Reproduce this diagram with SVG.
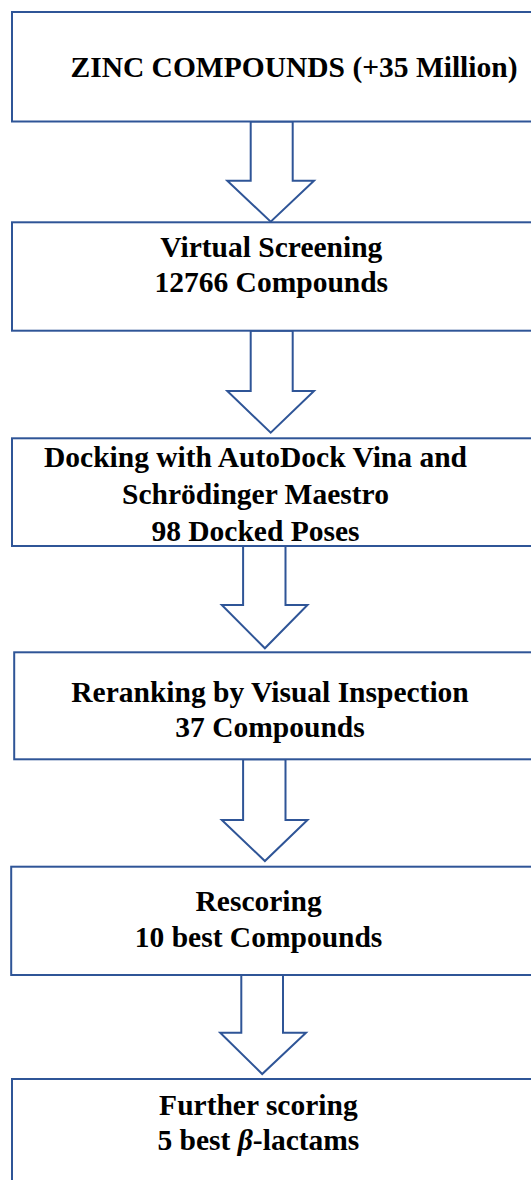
<svg xmlns="http://www.w3.org/2000/svg" width="531" height="1180" viewBox="0 0 531 1180">
<style>
.box{fill:#fff;stroke:#2F5597;stroke-width:2}
.arr{fill:#fff;stroke:#2F5597;stroke-width:2;stroke-linejoin:miter}
.t{font-family:"Liberation Serif","Times New Roman",serif;font-weight:bold;font-size:29.5px;fill:#000;text-anchor:middle}
</style>
<rect width="531" height="1180" fill="#fff"/>
<g id="connectors">
<polygon class="arr" points="250.7,121.5 292.7,121.5 292.7,180.7 314,180.7 270.7,221.7 227.3,180.7 250.7,180.7"/>
<polygon class="arr" points="250.7,330.7 292.7,330.7 292.7,391 314,391 270.7,432.7 227.3,391 250.7,391"/>
<polygon class="arr" points="243.1,546 285.5,546 285.5,605 307.5,605 264.9,648.3 221.8,605 243.1,605"/>
<polygon class="arr" points="243.1,759.3 285.5,759.3 285.5,820 307.5,820 264.9,861 221.8,820 243.1,820"/>
<polygon class="arr" points="241.3,973 283,973 283,1032.7 306,1032.7 262.2,1074 220.2,1032.7 241.3,1032.7"/>
</g>
<g id="n1">
<rect class="box" x="12" y="12" width="540" height="109.5"/>
<text class="t" x="294" y="77">ZINC COMPOUNDS (+35 Million)</text>
</g>
<g id="n2">
<rect class="box" x="12" y="222.3" width="540" height="108.4"/>
<text class="t" x="271.3" y="256.7">Virtual Screening</text>
<text class="t" x="271.3" y="291.7">12766 Compounds</text>
</g>
<g id="n3">
<rect class="box" x="12" y="438.3" width="540" height="107.7"/>
<text class="t" x="255.5" y="467.3">Docking with AutoDock Vina and</text>
<text class="t" x="255.5" y="504">Schrödinger Maestro</text>
<text class="t" x="255.5" y="540.7">98 Docked Poses</text>
</g>
<g id="n4">
<rect class="box" x="14.2" y="652.3" width="540" height="107"/>
<text class="t" x="270" y="701.7">Reranking by Visual Inspection</text>
<text class="t" x="270" y="736.7">37 Compounds</text>
</g>
<g id="n5">
<rect class="box" x="11.2" y="866.7" width="540" height="108.3"/>
<text class="t" x="258.6" y="911">Rescoring</text>
<text class="t" x="258.6" y="946.7">10 best Compounds</text>
</g>
<g id="n6">
<rect class="box" x="12" y="1079" width="540" height="120"/>
<text class="t" x="258.4" y="1115">Further scoring</text>
<text class="t" x="258.4" y="1150">5 best <tspan font-style="italic">β</tspan>-lactams</text>
</g>
</svg>
